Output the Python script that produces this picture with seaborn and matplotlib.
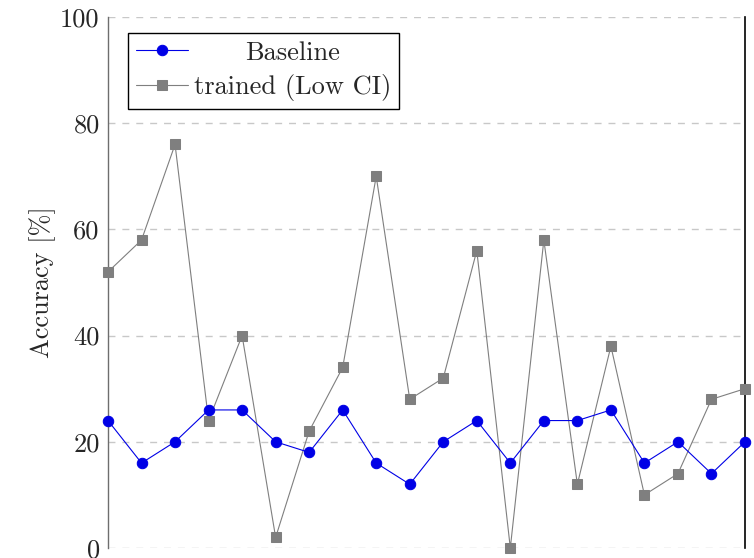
import matplotlib
matplotlib.use("Agg")
import matplotlib.pyplot as plt
import seaborn as sns
import pandas as pd
import numpy as np

runs = list(range(20))
baseline = [24, 16, 20, 26, 26, 20, 18, 26, 16, 12, 20, 24, 16, 24, 24, 26, 16, 20, 14, 20]
trained = [52, 58, 76, 24, 40, 2, 22, 34, 70, 28, 32, 56, 0, 58, 12, 38, 10, 14, 28, 30]
yticks = [0, 20, 40, 60, 80, 100]

sns.set_style("white")
plt.rcParams["font.family"] = ["cmr10", "DejaVu Serif"]
plt.rcParams["axes.formatter.use_mathtext"] = True

FS = 19
fig = plt.figure(figsize=(7.54, 5.58), dpi=100)
ax = fig.add_axes([108 / 754, 10 / 558, (745 - 108) / 754, (548 - 17) / 558])

df = pd.DataFrame({"run": runs, "Baseline": baseline, "trained": trained})

blue = "#0000e6"
gray = "#7f7f7f"
sns.lineplot(data=df, x="run", y="Baseline", ax=ax, color=blue, marker="o",
             markersize=7.5, mec=blue, mfc=blue, lw=0.8, label="Baseline",
             clip_on=False, zorder=4)
sns.lineplot(data=df, x="run", y="trained", ax=ax, color=gray, marker="s",
             markersize=7.5, mec=gray, mfc=gray, lw=0.8, label="trained (Low CI)",
             clip_on=False, zorder=3)

ax.set_xlim(0, 19)
ax.set_ylim(0, 100)
ax.set_yticks(yticks)
ax.set_yticklabels([str(t) for t in yticks], fontsize=FS)
ax.set_xticks([])
ax.set_xlabel("")
ax.set_ylabel("Accuracy [%]", fontsize=FS, labelpad=3)
ax.yaxis.grid(True, linestyle=(0, (5, 5)), color="#c8c8c8", lw=1)
ax.set_axisbelow(True)
for s in ["top", "bottom"]:
    ax.spines[s].set_visible(False)
ax.spines["left"].set_color("#6e6e6e")
ax.spines["left"].set_linewidth(1.0)
ax.spines["right"].set_color("black")
ax.spines["right"].set_linewidth(1.2)
ax.tick_params(axis="y", length=0, pad=6)

leg = ax.legend(loc="upper left", bbox_to_anchor=(0.031, 0.97), fontsize=FS,
                frameon=True, fancybox=False, edgecolor="black", framealpha=1,
                handlelength=2.0, handletextpad=0.2, borderpad=0.3,
                labelspacing=0.35, borderaxespad=0)
leg.get_frame().set_linewidth(1.0)

# center the shorter legend label within the text column (as in the reference)
fig.canvas.draw()
r = fig.canvas.get_renderer()
texts = leg.get_texts()
w0 = texts[0].get_window_extent(r).width
w1 = texts[1].get_window_extent(r).width
texts[0].set_x((w1 - w0) / 2)

fig.savefig("out.png", dpi=100)
